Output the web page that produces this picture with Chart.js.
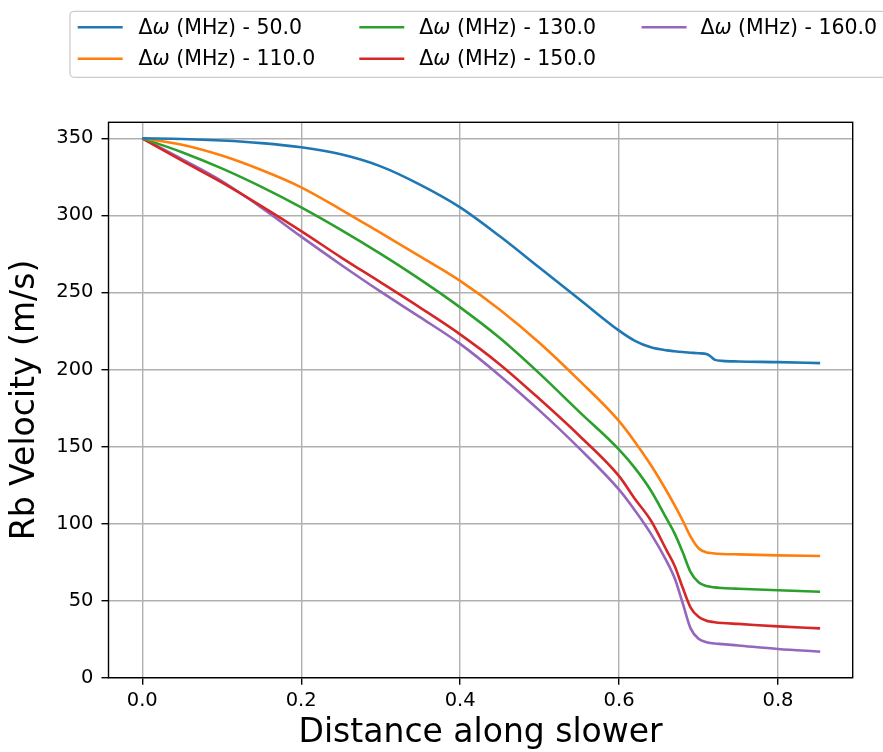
<!DOCTYPE html>
<html lang="en">
<head>
  <meta charset="UTF-8">
  <title>Rb velocity along the slower</title>
  <script src="https://cdn.jsdelivr.net/npm/chart.js"></script>
  <style>
    body {
      margin: 0;
      padding: 0;
      background-color: #fff;
    }
    .chart-container {
      position: relative;
      width: 883px;
      height: 752px;
    }
  </style>
</head>
<body>
  <div class="chart-container">
    <canvas id="velocityChart"></canvas>
  </div>

  <script>
    // Position along the slower (normalised)
    const distance = [0, 0.05, 0.1, 0.15, 0.2, 0.25, 0.3, 0.35, 0.4, 0.45, 0.5, 0.55, 0.6,
      0.62, 0.64, 0.66, 0.67, 0.68, 0.69, 0.70, 0.71, 0.715, 0.72, 0.73, 0.75, 0.8, 0.853];

    // Detuning of each run (MHz)
    const detunings = [50.0, 110.0, 130.0, 150.0, 160.0];

    // Rb velocity (m/s) for each detuning
    const vel50 = [350, 349.6, 348.6, 346.9, 344.2, 339.6, 331.8, 319.8, 305.2, 286.4, 266, 245.6, 225.2,
      218.6, 214.4, 212.4, 211.8, 211.3, 210.9, 210.5, 210, 208.6, 206.4, 205.6, 205.2, 204.8, 204.1];
    const vel110 = [350, 345.8, 338.8, 329.4, 318.2, 303.8, 288.6, 273.2, 257.5, 238.8, 217.2, 192.8, 166.5,
      153, 138, 121, 111.8, 102, 91.5, 84, 81.3, 80.9, 80.6, 80.3, 80, 79.4, 79];
    const vel130 = [350, 341, 330.5, 318.5, 305.2, 290.6, 275, 258.3, 240.3, 220.4, 197.3, 172.5, 148,
      136, 121.5, 103, 93.5, 81.5, 68.5, 62, 59.5, 59, 58.6, 58.2, 57.7, 56.7, 55.8];
    const vel150 = [350, 335.5, 321.4, 306, 289.8, 272.8, 256.5, 240, 222.8, 203.3, 180.8, 157, 130.8,
      116, 102, 82.5, 72.5, 58.5, 45.5, 39.5, 37, 36.4, 36, 35.5, 34.9, 33.3, 32];
    const vel160 = [350, 336.5, 322.3, 305, 286.2, 268, 250.5, 233.8, 216.6, 196, 173.3, 148.8, 122,
      108.5, 93.5, 75.5, 64.5, 48.5, 32, 25.3, 23, 22.5, 22.2, 21.8, 20.9, 18.6, 16.9];

    const velocities = [vel50, vel110, vel130, vel150, vel160];
    const colors = ['#1f77b4', '#ff7f0e', '#2ca02c', '#d62728', '#9467bd'];

    const xTicks = [0, 0.2, 0.4, 0.6, 0.8];
    const yTicks = [0, 50, 100, 150, 200, 250, 300, 350];

    const FONT = 'DejaVu Sans';

    // frame around the plot area (all four spines)
    const frame = {
      id: 'frame',
      afterDatasetsDraw(chart) {
        const { ctx, chartArea: a } = chart;
        ctx.save();
        ctx.strokeStyle = '#000';
        ctx.lineWidth = 1.4;
        ctx.strokeRect(a.left, a.top, a.right - a.left, a.bottom - a.top);
        ctx.restore();
      }
    };

    // legend in three columns, filled column by column
    const legendBox = {
      id: 'legendBox',
      afterDraw(chart) {
        const ctx = chart.ctx;
        const handleX = [77.7, 359.3, 641.6];
        const textX = [138.5, 419.3, 700.4];
        const rowY = [27.3, 58.7];
        const size = 20.5;
        ctx.save();
        ctx.beginPath();
        ctx.roundRect(70, 11.3, 840, 66, 4);
        ctx.fillStyle = 'rgba(255,255,255,0.8)';
        ctx.fill();
        ctx.strokeStyle = '#cccccc';
        ctx.lineWidth = 1.3;
        ctx.stroke();

        ctx.textBaseline = 'middle';
        chart.data.datasets.forEach((ds, i) => {
          const col = Math.floor(i / 2);
          const y = rowY[i % 2];
          ctx.beginPath();
          ctx.moveTo(handleX[col], y);
          ctx.lineTo(handleX[col] + 45, y);
          ctx.strokeStyle = ds.borderColor;
          ctx.lineWidth = 2.6;
          ctx.stroke();

          // Δ upright, ω italic, the rest upright
          const parts = ds.label.split('ω');
          let x = textX[col];
          ctx.fillStyle = '#000';
          ctx.font = `${size}px "${FONT}"`;
          ctx.fillText(parts[0], x, y + 1);
          x += ctx.measureText(parts[0]).width;
          ctx.font = `italic ${size}px "${FONT}"`;
          ctx.fillText('ω', x, y + 1);
          x += ctx.measureText('ω').width;
          ctx.font = `${size}px "${FONT}"`;
          ctx.fillText(parts[1], x, y + 1);
        });
        ctx.restore();
      }
    };

    const ctx = document.getElementById('velocityChart').getContext('2d');
    new Chart(ctx, {
      type: 'line',
      data: {
        datasets: detunings.map((d, i) => ({
          label: `Δω (MHz) - ${d.toFixed(1)}`,
          data: distance.map((x, j) => ({ x: x, y: velocities[i][j] })),
          borderColor: colors[i],
          backgroundColor: colors[i],
          borderWidth: 2.6,
          pointRadius: 0,
          fill: false,
          cubicInterpolationMode: 'monotone'
        }))
      },
      options: {
        responsive: true,
        maintainAspectRatio: false,
        animation: false,
        layout: { padding: { top: 122.3, right: 30.3, left: 0, bottom: 0 } },
        plugins: {
          legend: { display: false },
          tooltip: { enabled: false }
        },
        scales: {
          x: {
            type: 'linear',
            min: -0.0425,
            max: 0.894,
            afterFit: (scale) => { scale.height = 74.3; },
            afterBuildTicks: (scale) => { scale.ticks = xTicks.map(v => ({ value: v })); },
            ticks: {
              color: '#000',
              padding: 5,
              font: { family: FONT, size: 19.5 },
              callback: (v) => v.toFixed(1)
            },
            grid: { color: '#b0b0b0', lineWidth: 1.4, tickColor: '#000', tickLength: 7, tickWidth: 1.4 },
            border: { display: false },
            title: {
              display: true,
              text: 'Distance along slower',
              color: '#000',
              font: { family: FONT, size: 33, lineHeight: 1.1 },
              padding: { top: 0, bottom: 0 }
            }
          },
          y: {
            type: 'linear',
            min: 0,
            max: 360.4,
            afterFit: (scale) => { scale.width = 108.5; },
            afterBuildTicks: (scale) => { scale.ticks = yTicks.map(v => ({ value: v })); },
            ticks: {
              color: '#000',
              padding: 8,
              font: { family: FONT, size: 19.5 }
            },
            grid: { color: '#b0b0b0', lineWidth: 1.4, tickColor: '#000', tickLength: 7, tickWidth: 1.4 },
            border: { display: false },
            title: {
              display: true,
              text: 'Rb Velocity (m/s)',
              color: '#000',
              font: { family: FONT, size: 33, lineHeight: 1.1 },
              padding: { top: 7, bottom: 0 }
            }
          }
        }
      },
      plugins: [frame, legendBox]
    });
  </script>
</body>
</html>
